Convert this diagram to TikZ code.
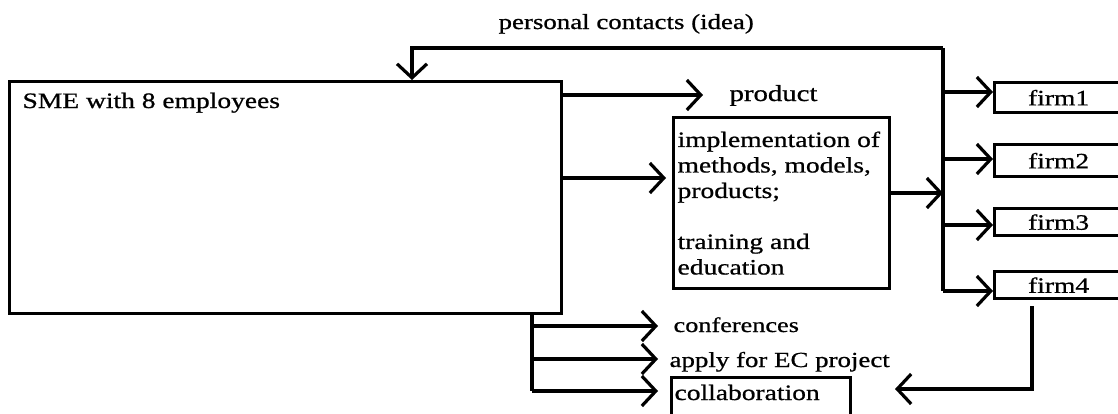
\documentclass[tikz,border=0pt]{standalone}
\usepackage{fontspec}
\setmainfont{Liberation Serif}[FakeStretch=1.25,FakeBold=0.8]
\usetikzlibrary{arrows.meta}
\begin{document}
\begin{tikzpicture}[x=1pt,y=-1pt, line width=3.2pt,
  arr/.style={-{Straight Barb[length=14pt,width=30pt]}},
  box/.style={draw, rectangle, inner sep=0pt},
  lbl/.style={inner sep=0pt, anchor=base west},
  txt/.style={font=\fontsize{22}{25.5}\selectfont},
]
\useasboundingbox (0,0) rectangle (1118,413);
\clip (0,0) rectangle (1118,413);

% boxes
\node[box, anchor=north west, minimum width=552pt, minimum height=232pt] (sme) at (8,80) {};
\node[lbl, txt] (smet) at (21,108) {SME with 8 employees};

\node[box, anchor=north west, minimum width=216pt, minimum height=171pt] (impl) at (672,116) {};
\node[txt, anchor=west, align=left, inner sep=0pt] (implt) at ([xshift=4pt]impl.west)
  {implementation of\\methods, models,\\products;\\[25.5pt]training and\\education};

\node[box, txt, anchor=north west, minimum width=128pt, minimum height=30pt] (f1) at (993,81) {firm1};
\node[box, txt, anchor=north west, minimum width=128pt, minimum height=32pt] (f2) at (993,143) {firm2};
\node[box, txt, anchor=north west, minimum width=128pt, minimum height=27pt] (f3) at (993,207) {firm3};
\node[box, txt, anchor=north west, minimum width=128pt, minimum height=27pt] (f4) at (993,270) {firm4};

\node[box, anchor=north west, minimum width=179pt, minimum height=50pt] (col) at (670,376) {};
\node[lbl, txt] (colt) at (673,400) {collaboration};

% labels
\node[lbl, font=\fontsize{21.5}{24}\selectfont] (pc) at (497,29) {personal contacts (idea)};
\node[lbl, font=\fontsize{23}{26}\selectfont] (prod) at (728,101) {product};
\node[lbl, font=\fontsize{21}{24}\selectfont] (conf) at (672,332) {conferences};
\node[lbl, font=\fontsize{21.5}{24}\selectfont] (ec) at (668,367) {apply for EC project};

% feedback from the firm bus to the SME
\coordinate (bt) at (943,48);
\coordinate (bb) at (943,291);
\coordinate (smetop) at (412,80);
\draw[arr] (bt) -| (smetop);
\draw (bt) -- (bb);

% SME to product / implementation
\coordinate (pa) at (703,95);
\draw[arr] (sme.east |- pa) -- (pa);
\coordinate (ia) at (666,178);
\draw[arr] (sme.east |- ia) -- (ia);

% implementation to bus
\coordinate (ib) at (943,193);
\draw[arr] (impl.east |- ib) -- (ib);

% bus to firms
\coordinate (b1) at (943,92);
\coordinate (b2) at (943,159);
\coordinate (b3) at (943,225);
\draw[arr] (b1) -- (f1.west |- b1);
\draw[arr] (b2) -- (f2.west |- b2);
\draw[arr] (b3) -- (f3.west |- b3);
\draw[arr] (bb) -- (f4.west |- bb);

% SME bottom branches
\coordinate (sb) at (532,312);
\coordinate (t1) at (658,326);
\coordinate (t2) at (658,359);
\coordinate (t3) at (658,391);
\draw (sb) -- (sb |- t3);
\draw[arr] (sb |- t1) -- (t1);
\draw[arr] (sb |- t2) -- (t2);
\draw[arr] (sb |- t3) -- (t3);

% firm4 to collaboration
\coordinate (fd) at (1032,306);
\coordinate (ct) at (895,389);
\draw[arr] (fd) |- (ct);
\end{tikzpicture}
\end{document}
